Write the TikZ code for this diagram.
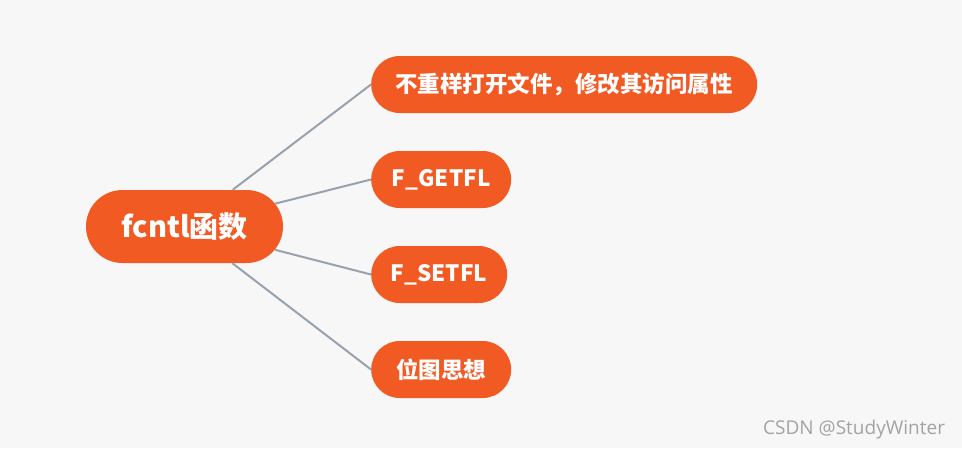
\documentclass[tikz,border=0pt]{standalone}
\usepackage{fontspec}
\usepackage{xcolor}
\usepackage{tikz}
\usetikzlibrary{shapes.misc}
\newfontfamily\cjk{Noto Sans CJK SC}
\newfontfamily\wmfont{Open Sans}
\definecolor{latar}{HTML}{F7F7F7}
\definecolor{oranye}{HTML}{F25A24}
\definecolor{garis}{HTML}{97A2AC}
\definecolor{tanda}{HTML}{A3A3A3}

\begin{document}
\begin{tikzpicture}[x=1pt,y=-1pt,
    akar/.style={rounded rectangle, fill=oranye, text=white, minimum height=73pt,
        inner xsep=0pt, font=\cjk\bfseries\fontsize{29}{31}\selectfont},
    cabang/.style={rounded rectangle, fill=oranye, text=white, minimum height=57pt,
        inner xsep=0pt, anchor=west, font=\cjk\bfseries\fontsize{22.5}{24}\selectfont},
    tali/.style={draw=garis, line width=2pt}]
    %LATAR
    \fill[latar] (0,0) rectangle (962,448);
    \useasboundingbox (0,0) rectangle (962,448);
    %AKAR
    \node[akar, minimum width=197pt] (fcntl) at (184.5,226.5) {fcntl函数};
    %CABANG
    \node[cabang, minimum width=386pt] (buka) at (371,84.5) {不重样打开文件，修改其访问属性};
    \node[cabang, minimum width=140pt] (getfl) at (371,179.5) {F\_GETFL};
    \node[cabang, minimum width=136pt] (setfl) at (371,274.5) {F\_SETFL};
    \node[cabang, minimum width=140pt] (bitmap) at (371,369.5) {位图思想};
    %TALI
    \draw[tali] (fcntl) -- (buka.west);
    \draw[tali] (fcntl) -- (getfl.west);
    \draw[tali] (fcntl) -- (setfl.west);
    \draw[tali] (fcntl) -- (bitmap.west);
    %TANDA AIR
    \node[anchor=base west, inner sep=0pt, text=tanda, font=\wmfont\fontsize{19}{21}\selectfont] (csdn) at (763,434) {CSDN @StudyWinter};
\end{tikzpicture}
\end{document}
